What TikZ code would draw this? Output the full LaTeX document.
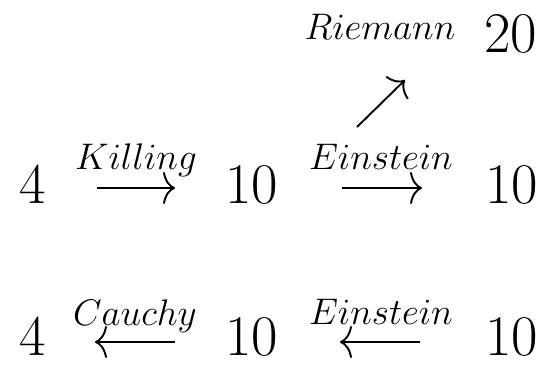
\RequirePackage{fix-cm}
\documentclass[tikz,border=0pt]{standalone}
\usetikzlibrary{arrows.meta}
\tikzset{
  num/.style={inner sep=0pt, anchor=base, font=\fontsize{57.5}{69}\selectfont},
  lbl/.style={inner sep=0pt, anchor=base, font=\fontsize{37}{44}\selectfont},
  arr/.style={line width=1.9pt, -{To[length=12pt,width=32pt]}}
}
\begin{document}
\begin{tikzpicture}[x=1pt,y=-1pt]
\useasboundingbox (0,0) rectangle (548,371);
% numbers
\node[num] (n20) at (511,53) {$20$};
\node[num] (a4) at (32.5,204) {$4$};
\node[num] (a10) at (252,204) {$10$};
\node[num] (b10) at (512,204) {$10$};
\node[num] (c4) at (32.5,355) {$4$};
\node[num] (c10) at (252,355) {$10$};
\node[num] (d10) at (512,355) {$10$};
% labels
\node[lbl] (riem) at (380,40) {$Riemann$};
\node[lbl] (kill) at (136,170) {$Killing$};
\node[lbl] (ein1) at (381,170) {$Einstein$};
\node[lbl] (cau) at (135,325) {$Cauchy$};
\node[lbl] (ein2) at (381,324) {$Einstein$};
% arrow ends
\coordinate (k1) at (97,188);
\coordinate (k2) at (175,188);
\coordinate (e1) at (342,188);
\coordinate (e2) at (422,188);
\coordinate (r1) at (357,127);
\coordinate (r2) at (405,80);
\coordinate (c1) at (95,342);
\coordinate (c2) at (175,342);
\coordinate (f1) at (340,342);
\coordinate (f2) at (420,342);
% arrows
\draw[arr] (k1) -- (k2);
\draw[arr] (e1) -- (e2);
\draw[arr] (r1) -- (r2);
\draw[arr] (c2) -- (c1);
\draw[arr] (f2) -- (f1);
\end{tikzpicture}
\end{document}
